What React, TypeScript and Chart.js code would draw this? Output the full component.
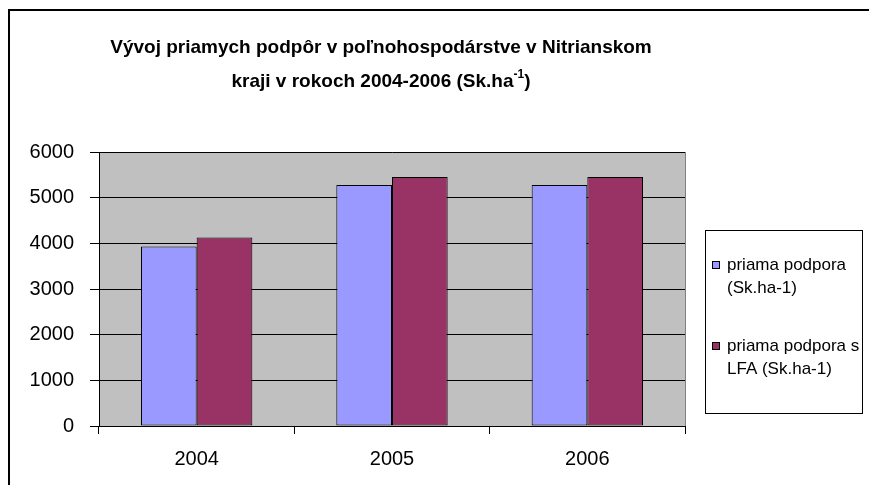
import React, { useEffect, useRef } from "react";
import { Chart, registerables } from "chart.js";

Chart.register(...registerables);

const categories = ["2004", "2005", "2006"];
const seriesDirect = [3930, 5280, 5280];
const seriesLFA = [4130, 5450, 5450];
const seriesNames = [
  ["priama podpora", "(Sk.ha-1)"],
  ["priama podpora s", "LFA (Sk.ha-1)"],
];
const yTicks = [0, 1000, 2000, 3000, 4000, 5000, 6000];
const titleLine1 = "Vývoj priamych podpôr v poľnohospodárstve v Nitrianskom";
const titleLine2Main = "kraji v rokoch 2004-2006 (Sk.ha";
const titleLine2Sup = "-1";
const titleLine2End = ")";

const FONT = "'Liberation Sans', Arial, sans-serif";
const colors = ["#9999FF", "#993366"];

const decorPlugin = {
  id: "decor",
  beforeDraw(chart: any) {
    const { ctx, chartArea } = chart;
    ctx.save();
    ctx.fillStyle = "#ffffff";
    ctx.fillRect(0, 0, chart.width, chart.height);
    ctx.fillStyle = "#C0C0C0";
    ctx.fillRect(chartArea.left, chartArea.top, chartArea.right - chartArea.left, chartArea.bottom - chartArea.top);
    ctx.strokeStyle = "#808080";
    ctx.lineWidth = 1;
    ctx.strokeRect(chartArea.left + 0.5, chartArea.top + 0.5, chartArea.right - chartArea.left, chartArea.bottom - chartArea.top);
    ctx.restore();
  },
  afterDraw(chart: any) {
    const { ctx } = chart;
    ctx.save();
    // outer frame (top & left visible)
    ctx.fillStyle = "#000000";
    ctx.fillRect(8, 9, chart.width - 8, 2);
    ctx.fillRect(8, 9, 2, chart.height - 9);

    // title
    ctx.fillStyle = "#000000";
    ctx.textBaseline = "alphabetic";
    ctx.font = `bold 19px ${FONT}`;
    ctx.textAlign = "center";
    const cx = 381;
    ctx.fillText(titleLine1, cx, 53);
    const wMain = ctx.measureText(titleLine2Main).width;
    const wEnd = ctx.measureText(titleLine2End).width;
    ctx.font = `bold 12px ${FONT}`;
    const wSup = ctx.measureText(titleLine2Sup).width;
    const total = wMain + wSup + wEnd;
    let x = cx - total / 2;
    ctx.textAlign = "left";
    ctx.font = `bold 19px ${FONT}`;
    ctx.fillText(titleLine2Main, x, 87);
    x += wMain;
    ctx.font = `bold 12px ${FONT}`;
    ctx.fillText(titleLine2Sup, x, 78);
    x += wSup;
    ctx.font = `bold 19px ${FONT}`;
    ctx.fillText(titleLine2End, x, 87);

    // legend
    const bx = 705, by = 230, bw = 157, bh = 183;
    ctx.fillStyle = "#ffffff";
    ctx.fillRect(bx, by, bw, bh);
    ctx.strokeStyle = "#000000";
    ctx.lineWidth = 1;
    ctx.strokeRect(bx + 0.5, by + 0.5, bw, bh);
    const rowY = [265, 346];
    ctx.font = `17px ${FONT}`;
    ctx.textBaseline = "middle";
    seriesNames.forEach((lines, i) => {
      const y = rowY[i];
      ctx.fillStyle = colors[i];
      ctx.fillRect(712, y - 4, 8, 8);
      ctx.strokeStyle = "#000000";
      ctx.strokeRect(712.5, y - 3.5, 7, 7);
      ctx.fillStyle = "#000000";
      lines.forEach((ln, j) => ctx.fillText(ln, 727, y + j * 23));
    });
    ctx.restore();
  },
};

export default function App() {
  const ref = useRef<HTMLCanvasElement | null>(null);
  useEffect(() => {
    if (!ref.current) return;
    const chart = new Chart(ref.current, {
      type: "bar",
      data: {
        labels: categories,
        datasets: [
          {
            label: seriesNames[0].join(" "),
            data: seriesDirect,
            backgroundColor: colors[0],
            borderColor: "#000000",
            borderWidth: 1,
            borderSkipped: false,
            categoryPercentage: 0.57,
            barPercentage: 1,
          },
          {
            label: seriesNames[1].join(" "),
            data: seriesLFA,
            backgroundColor: colors[1],
            borderColor: "#000000",
            borderWidth: 1,
            borderSkipped: false,
            categoryPercentage: 0.57,
            barPercentage: 1,
          },
        ],
      },
      options: {
        responsive: false,
        animation: false,
        devicePixelRatio: 1,
        layout: { padding: { left: 0, top: 152, right: 184, bottom: 0 } },
        plugins: { legend: { display: false }, title: { display: false }, tooltip: { enabled: false } },
        scales: {
          x: {
            type: "category",
            grid: { display: true, drawOnChartArea: false, offset: true, color: "#000000", tickLength: 8 },
            border: { display: true, color: "#000000", width: 1 },
            ticks: { color: "#000000", font: { family: FONT, size: 20 }, padding: 13 },
            afterFit(scale: any) {
              scale.height = 59;
            },
          },
          y: {
            min: 0,
            max: 6000,
            afterBuildTicks(scale: any) {
              scale.ticks = yTicks.map((v) => ({ value: v }));
            },
            grid: { color: "#000000", tickLength: 9 },
            border: { display: true, color: "#000000", width: 1 },
            ticks: {
              color: "#000000",
              font: { family: FONT, size: 20 },
              padding: 16,
              callback: (v: any) => String(v),
            },
            afterFit(scale: any) {
              scale.width = 99;
            },
          },
        },
      },
      plugins: [decorPlugin],
    } as any);
    return () => chart.destroy();
  }, []);
  return (
    <div style={{ position: "absolute", left: 0, top: 0, width: 869, height: 485 }}>
      <canvas ref={ref} width={869} height={485} style={{ width: 869, height: 485 }} />
    </div>
  );
}
